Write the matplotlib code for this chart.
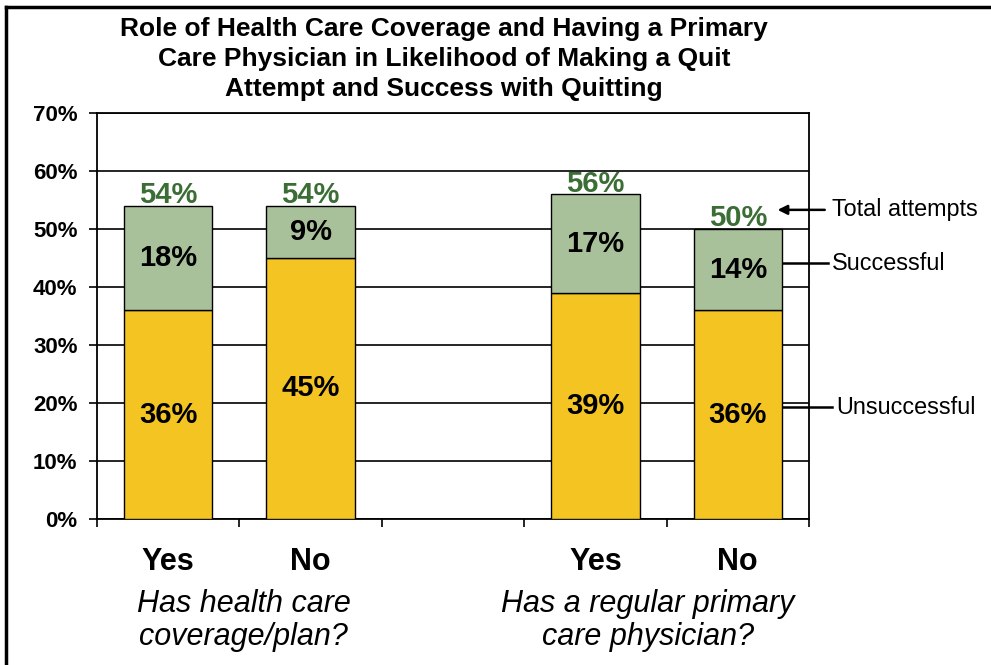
import matplotlib.pyplot as plt
from matplotlib.lines import Line2D

plt.rcParams['font.family'] = ['Liberation Sans', 'DejaVu Sans']

# bar slots: the middle slot is left empty to split the two questions
answers = ['Yes', 'No', '', 'Yes', 'No']
unsuccessful = [36, 45, None, 39, 36]
successful = [18, 9, None, 17, 14]
groups = ['Has health care\ncoverage/plan?', 'Has a regular primary\ncare physician?']
yticks = [0, 10, 20, 30, 40, 50, 60, 70]

YELLOW = '#F4C522'
GREEN = '#A9C19B'
DARK_GREEN = '#3B6E35'

fig = plt.figure(figsize=(9.91, 6.65), dpi=100)
ax = fig.add_axes([97 / 991, 146 / 665, 712 / 991, 406 / 665])

width = 0.62
for i, (u, s) in enumerate(zip(unsuccessful, successful)):
    if u is None:
        continue
    ax.bar(i, u, width, color=YELLOW, edgecolor='black', linewidth=1, zorder=3)
    ax.bar(i, s, width, bottom=u, color=GREEN, edgecolor='black', linewidth=1, zorder=3)
    ax.text(i, u / 2, f'{u}%', ha='center', va='center', fontsize=21,
            fontweight='bold', zorder=4)
    ax.text(i, u + s / 2, f'{s}%', ha='center', va='center', fontsize=21,
            fontweight='bold', zorder=4)
    ax.text(i, u + s - 0.6, f'{u + s}%', ha='center', va='bottom', fontsize=21,
            fontweight='bold', color=DARK_GREEN, zorder=4)

ax.set_xlim(-0.5, 4.5)
ax.set_ylim(0, 70)
ax.set_yticks(yticks)
ax.set_yticklabels([f'{t}%' for t in yticks], fontsize=16, fontweight='bold')
ax.set_xticks([x - 0.5 for x in range(6)])
ax.set_xticklabels([])
ax.tick_params(axis='both', direction='out', length=6, width=1.2, color='black')
ax.tick_params(axis='y', pad=8)
ax.grid(axis='y', color='black', linewidth=1.2, zorder=0)
for sp in ax.spines.values():
    sp.set_linewidth(1.3)

# answer labels and question captions under the axis
trans = ax.get_xaxis_transform()
for i, a in enumerate(answers):
    if a:
        ax.text(i, -0.106, a, transform=trans, ha='center', va='center',
                fontsize=22, fontweight='bold')
ax.text(0.53, -0.25, groups[0], transform=trans, ha='center', va='center',
        fontsize=22, style='italic', linespacing=1.12)
ax.text(3.37, -0.25, groups[1], transform=trans, ha='center', va='center',
        fontsize=22, style='italic', linespacing=1.12)

# call-outs on the right
ax.annotate('', xy=(4.26, 53.3), xytext=(4.63, 53.3),
            arrowprops=dict(arrowstyle='-|>', color='black', lw=1.8,
                            mutation_scale=14), annotation_clip=False)
ax.text(4.66, 53.3, 'Total attempts', ha='left', va='center', fontsize=16.8,
        clip_on=False)
ax.plot([4.31, 4.63], [44.1, 44.1], color='black', lw=1.8, clip_on=False)
ax.text(4.66, 44.1, 'Successful', ha='left', va='center', fontsize=16.8,
        clip_on=False)
ax.plot([4.31, 4.66], [19.3, 19.3], color='black', lw=1.8, clip_on=False)
ax.text(4.69, 19.3, 'Unsuccessful', ha='left', va='center', fontsize=16.8,
        clip_on=False)

fig.text(444 / 991, 1 - 17 / 665,
         'Role of Health Care Coverage and Having a Primary\n'
         'Care Physician in Likelihood of Making a Quit\n'
         'Attempt and Success with Quitting',
         ha='center', va='top', fontsize=19, fontweight='bold', linespacing=1.32)

# frame lines along the top and left edge
fig.add_artist(Line2D([6 / 991, 1], [1 - 7 / 665, 1 - 7 / 665], color='black', lw=2.5))
fig.add_artist(Line2D([6 / 991, 6 / 991], [0, 1 - 7 / 665], color='black', lw=2.5))

fig.savefig('out.png', dpi=100)
